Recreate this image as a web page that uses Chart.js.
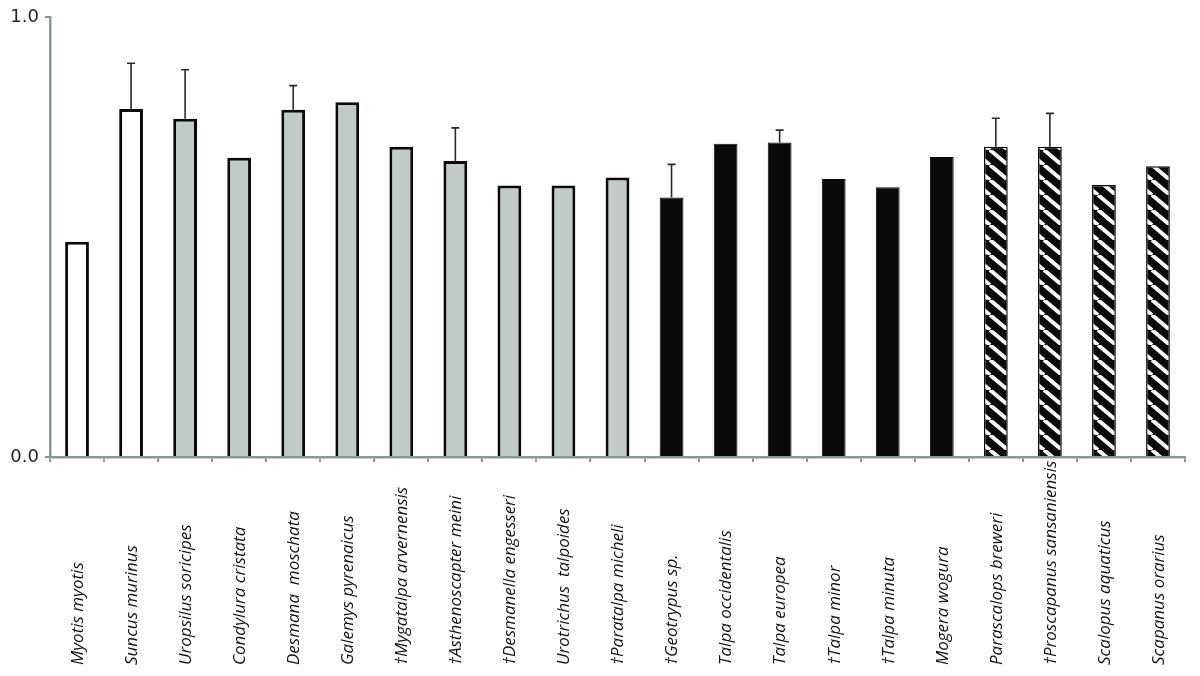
<!DOCTYPE html>
<html>
<head>
<meta charset="utf-8">
<script src="https://cdn.jsdelivr.net/npm/chart.js@4/dist/chart.umd.min.js"></script>
<style>
  html, body { margin: 0; padding: 0; background: #ffffff; }
  #wrap { width: 1200px; height: 676px; }
</style>
</head>
<body>
<div id="wrap"><canvas id="c" width="1200" height="676"></canvas></div>
<script>
const categories = [
  "Myotis myotis", "Suncus murinus", "Uropsilus soricipes", "Condylura cristata",
  "Desmana  moschata", "Galemys pyrenaicus", "†Mygatalpa arvernensis",
  "†Asthenoscapter meini", "†Desmanella engesseri", "Urotrichus  talpoides",
  "†Paratalpa micheli", "†Geotrypus sp.", "Talpa occidentalis", "Talpa europea",
  "†Talpa minor", "†Talpa minuta", "Mogera wogura", "Parascalops breweri",
  "†Proscapanus sansaniensis", "Scalopus aquaticus", "Scapanus orarius"
];
const values = [0.489, 0.791, 0.769, 0.680, 0.789, 0.806, 0.705, 0.673, 0.617, 0.617,
                0.635, 0.590, 0.712, 0.715, 0.632, 0.613, 0.682, 0.705, 0.705, 0.618, 0.661];
const errorsUp = [null, 0.104, 0.111, null, 0.055, null, null, 0.075, null, null,
                  null, 0.075, null, 0.028, null, null, null, 0.065, 0.076, null, null];
const groups = ["white", "white", "gray", "gray", "gray", "gray", "gray", "gray", "gray", "gray",
                "gray", "black", "black", "black", "black", "black", "black", "hatch", "hatch", "hatch", "hatch"];
const yTicks = [0, 1];

function makeHatch() {
  const w = 18, h = 15;
  const c = document.createElement('canvas');
  c.width = w; c.height = h;
  const g = c.getContext('2d');
  g.fillStyle = '#0a0a0a';
  g.fillRect(0, 0, w, h);
  g.strokeStyle = '#ffffff';
  g.lineWidth = 4;
  for (let k = -1; k <= 1; k++) {
    g.beginPath();
    g.moveTo(k * w, 0);
    g.lineTo(k * w + w, h);
    g.stroke();
  }
  return document.getElementById('c').getContext('2d').createPattern(c, 'repeat');
}
const hatch = makeHatch();
const fillFor = { white: '#ffffff', gray: '#c3cbc9', black: '#0a0a0a', hatch: hatch };
const borderW = { white: 3, gray: 3, black: 1, hatch: 1.5 };

const errorBars = {
  id: 'errorBars',
  afterDatasetsDraw(chart) {
    const ctx = chart.ctx;
    const meta = chart.getDatasetMeta(0);
    const y = chart.scales.y;
    ctx.save();
    ctx.strokeStyle = '#2a2a2a';
    ctx.lineWidth = 1.6;
    meta.data.forEach((bar, i) => {
      const e = errorsUp[i];
      if (e == null) return;
      const top = y.getPixelForValue(values[i] + e);
      const base = y.getPixelForValue(values[i]);
      ctx.beginPath();
      ctx.moveTo(bar.x, base);
      ctx.lineTo(bar.x, top);
      ctx.moveTo(bar.x - 4, top);
      ctx.lineTo(bar.x + 4, top);
      ctx.stroke();
    });
    ctx.restore();
  }
};

const catLabels = {
  id: 'catLabels',
  afterDraw(chart) {
    const ctx = chart.ctx;
    const xs = chart.scales.x;
    ctx.save();
    ctx.font = 'italic 17px "Open Sans"';
    ctx.fillStyle = '#111111';
    ctx.textAlign = 'left';
    ctx.textBaseline = 'middle';
    categories.forEach((lab, i) => {
      const x = xs.getPixelForValue(i);
      ctx.save();
      ctx.translate(x + 1, 665);
      ctx.rotate(-Math.PI / 2);
      ctx.fillText(lab, 0, 0);
      ctx.restore();
    });
    ctx.restore();
  }
};

new Chart(document.getElementById('c'), {
  type: 'bar',
  data: {
    labels: categories,
    datasets: [{
      data: values,
      backgroundColor: groups.map(g => fillFor[g]),
      borderColor: '#0a0a0a',
      borderWidth: groups.map(g => borderW[g]),
      barPercentage: 0.44,
      categoryPercentage: 1.0
    }]
  },
  options: {
    responsive: false,
    animation: false,
    layout: { padding: { top: 17, right: 15, left: 0, bottom: 0 } },
    plugins: { legend: { display: false }, tooltip: { enabled: false } },
    scales: {
      x: {
        afterFit(s) { s.height = 219; },
        ticks: { display: false },
        grid: { drawOnChartArea: false, drawTicks: true, tickLength: 5, color: '#8a9794', lineWidth: 2, offset: true },
        border: { color: '#8a9794', width: 2.5 }
      },
      y: {
        min: 0, max: 1,
        afterFit(s) { s.width = 50; },
        afterBuildTicks(s) { s.ticks = yTicks.map(v => ({ value: v })); },
        ticks: {
          padding: 6,
          color: '#222222',
          font: { family: 'DejaVu Sans', size: 18 },
          callback: v => Number(v).toFixed(1)
        },
        grid: { drawOnChartArea: false, drawTicks: true, tickLength: 5, color: '#8a9794', lineWidth: 2 },
        border: { color: '#8a9794', width: 2.5 }
      }
    }
  },
  plugins: [errorBars, catLabels]
});
</script>
</body>
</html>
